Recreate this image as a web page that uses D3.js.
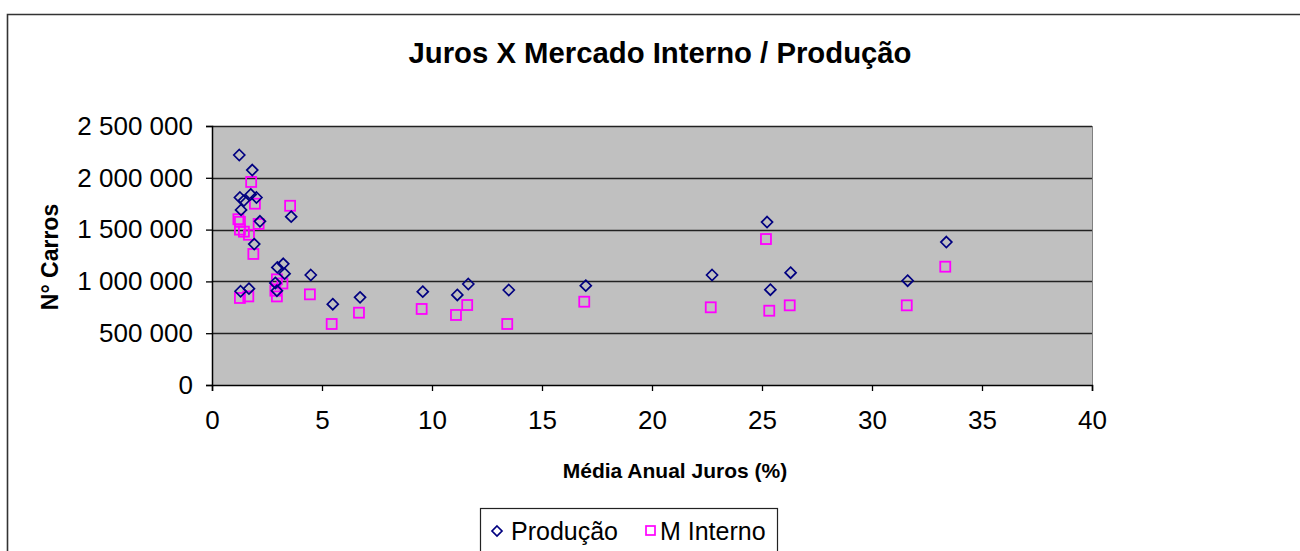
<!DOCTYPE html>
<html>
<head>
<meta charset="utf-8">
<script src="https://cdn.jsdelivr.net/npm/d3@7"></script>
<style>
  html, body { margin: 0; padding: 0; background: #fff; }
  svg { display: block; font-family: "Liberation Sans", Arial, sans-serif; }
</style>
</head>
<body>
<svg id="chart" width="1300" height="551"></svg>
<script>
// ---- Data ----
const title = "Juros X Mercado Interno / Produção";
const xTitle = "Média Anual Juros (%)";
const yTitle = "N° Carros";
const seriesNames = ["Produção", "M Interno"];

const xTicks = [0, 5, 10, 15, 20, 25, 30, 35, 40];
const yTicks = [0, 500000, 1000000, 1500000, 2000000, 2500000];

// Produção (diamonds)
const prodX = [1.24, 1.83, 1.27, 1.45, 1.76, 2.02, 1.32, 2.18, 3.6, 1.92, 2.97, 3.24, 3.3, 2.88, 2.95, 1.3, 1.68,
               4.49, 5.49, 6.73, 9.58, 11.15, 11.65, 13.49, 16.99, 22.73, 25.23, 25.38, 26.3, 31.62, 33.38];
const prodY = [2220000, 2075000, 1810000, 1780000, 1840000, 1810000, 1690000, 1580000, 1625000, 1360000, 1135000, 1170000, 1075000, 985000, 910000, 905000, 930000,
               1062000, 780000, 846000, 901000, 869000, 975000, 917000, 959000, 1062000, 1573000, 920000, 1084000, 1007000, 1380000];

// M Interno (squares)
const intX = [1.78, 1.95, 3.55, 1.2, 1.27, 2.12, 1.27, 1.45, 1.68, 1.88, 2.95, 3.2, 2.88, 2.95, 1.27, 1.65,
              4.45, 5.44, 6.68, 9.53, 11.09, 11.6, 13.42, 16.92, 22.67, 25.18, 25.33, 26.26, 31.58, 33.33];
const intY = [1960000, 1750000, 1730000, 1600000, 1575000, 1555000, 1500000, 1480000, 1450000, 1265000, 1020000, 980000, 910000, 855000, 840000, 855000,
              875000, 589000, 698000, 734000, 676000, 772000, 589000, 804000, 750000, 1409000, 717000, 769000, 769000, 1142000];

// ---- Layout ----
const svg = d3.select("#chart");
const plot = { left: 212, top: 126, right: 1092, bottom: 385 };

const x = d3.scaleLinear().domain([0, 40]).range([plot.left, plot.right]);
const y = d3.scaleLinear().domain([0, 2500000]).range([plot.bottom, plot.top]);

const fmt = v => d3.format(",")(v).replace(/,/g, " ");

// Outer chart border (left & top visible, rest cropped)
svg.append("path")
  .attr("d", `M7.5,551 L7.5,14.5 L1300,14.5`)
  .attr("fill", "none").attr("stroke", "#333").attr("stroke-width", 1.6);

// Title
svg.append("text")
  .attr("x", 660).attr("y", 63)
  .attr("text-anchor", "middle")
  .attr("font-size", 29.3).attr("font-weight", "bold")
  .text(title);

// Plot background
svg.append("rect")
  .attr("x", plot.left).attr("y", plot.top)
  .attr("width", plot.right - plot.left).attr("height", plot.bottom - plot.top)
  .attr("fill", "#C0C0C0");

// Right border of plot area
svg.append("line")
  .attr("x1", plot.right + 0.5).attr("x2", plot.right + 0.5)
  .attr("y1", plot.top).attr("y2", plot.bottom)
  .attr("stroke", "#808080").attr("stroke-width", 1);

// Gridlines
svg.append("g").selectAll("line").data(yTicks.filter(d => d > 0)).join("line")
  .attr("x1", plot.left).attr("x2", plot.right)
  .attr("y1", d => Math.round(y(d)) + 0.5).attr("y2", d => Math.round(y(d)) + 0.5)
  .attr("stroke", "#222").attr("stroke-width", 1.3);

// Y axis
const yAxis = d3.axisLeft(y).tickValues(yTicks).tickFormat(fmt).tickSize(6).tickPadding(13);
const gy = svg.append("g").attr("transform", `translate(${plot.left},0)`).call(yAxis);
gy.select(".domain").attr("stroke", "#000").attr("stroke-width", 1.5);
gy.selectAll(".tick line").attr("stroke", "#000").attr("stroke-width", 1.3);
gy.selectAll(".tick text").attr("font-size", 26).attr("fill", "#000")
  .attr("font-family", "'Liberation Sans', Arial, sans-serif");

// X axis
const xAxis = d3.axisBottom(x).tickValues(xTicks).tickSize(6).tickPadding(20);
const gx = svg.append("g").attr("transform", `translate(0,${plot.bottom})`).call(xAxis);
gx.select(".domain").attr("stroke", "#000").attr("stroke-width", 1.5);
gx.selectAll(".tick line").attr("stroke", "#000").attr("stroke-width", 1.3);
gx.selectAll(".tick text").attr("font-size", 26).attr("fill", "#000")
  .attr("font-family", "'Liberation Sans', Arial, sans-serif");

// Axis titles
svg.append("text")
  .attr("x", 675).attr("y", 478)
  .attr("text-anchor", "middle")
  .attr("font-size", 21).attr("font-weight", "bold")
  .text(xTitle);

svg.append("text")
  .attr("transform", `translate(58,${257}) rotate(-90)`)
  .attr("text-anchor", "middle")
  .attr("font-size", 23).attr("font-weight", "bold")
  .text(yTitle);

// Markers
const diamond = (cx, cy, r) => `M${cx},${cy - r} L${cx + r},${cy} L${cx},${cy + r} L${cx - r},${cy} Z`;

svg.append("g").selectAll("rect").data(d3.range(intX.length)).join("rect")
  .attr("x", i => x(intX[i]) - 5).attr("y", i => y(intY[i]) - 5)
  .attr("width", 10).attr("height", 10)
  .attr("fill", "none").attr("stroke", "#FF00FF").attr("stroke-width", 1.8);

svg.append("g").selectAll("path").data(d3.range(prodX.length)).join("path")
  .attr("d", i => diamond(x(prodX[i]), y(prodY[i]), 5.5))
  .attr("fill", "none").attr("stroke", "#000080").attr("stroke-width", 1.7);

// Legend
const lg = svg.append("g");
lg.append("rect")
  .attr("x", 480.5).attr("y", 508.5).attr("width", 297).attr("height", 60)
  .attr("fill", "#fff").attr("stroke", "#222").attr("stroke-width", 1.2);
lg.append("path").attr("d", diamond(497, 531, 5))
  .attr("fill", "none").attr("stroke", "#000080").attr("stroke-width", 1.7);
lg.append("text").attr("x", 511).attr("y", 540).attr("font-size", 25).text(seriesNames[0]);
lg.append("rect").attr("x", 646).attr("y", 526).attr("width", 9).attr("height", 9)
  .attr("fill", "none").attr("stroke", "#FF00FF").attr("stroke-width", 1.7);
lg.append("text").attr("x", 660).attr("y", 540).attr("font-size", 25).text(seriesNames[1]);
</script>
</body>
</html>
